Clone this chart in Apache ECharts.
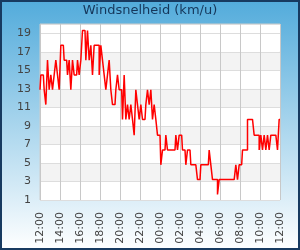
<!DOCTYPE html>
<html><head><meta charset="utf-8">
<script src="https://cdn.jsdelivr.net/npm/echarts@6/dist/echarts.min.js"></script>
<style>html,body{margin:0;padding:0;background:#fff}#c{width:300px;height:250px}</style>
</head><body><div id="c"></div>
<script>
const titleText = 'Windsnelheid (km/u)';
const startHour = 12;
const stepMinutes = 10;
const labelEvery = 12; // one label per 2 hours
const windSpeed = [
  12.9,14.5,14.5,12.9,11.3,16.1,12.9,14.5,12.9,14.5,
  16.1,14.5,12.9,17.7,17.7,16.1,16.1,14.5,16.1,12.9,
  16.1,14.5,14.5,16.1,14.5,16.1,19.3,19.3,16.1,19.3,
  16.1,17.7,14.5,17.7,17.7,17.7,14.5,17.7,16.1,14.5,
  12.9,14.5,16.1,12.9,11.3,11.3,12.9,14.5,12.9,12.9,
  9.7,14.5,9.7,11.3,9.7,11.3,9.7,8.0,12.9,11.3,
  9.7,11.3,9.7,9.7,11.3,12.9,11.3,12.9,9.7,11.3,
  9.7,8.0,8.0,4.8,6.4,6.4,8.0,6.4,6.4,6.4,
  6.4,6.4,8.0,6.4,8.0,8.0,6.4,6.4,4.8,6.4,
  6.4,4.8,4.8,4.8,4.8,3.2,3.2,4.8,4.8,4.8,
  4.8,4.8,6.4,4.8,3.2,3.2,3.2,1.6,3.2,3.2,
  3.2,3.2,3.2,3.2,3.2,3.2,3.2,3.2,4.8,3.2,
  4.8,4.8,6.4,6.4,6.4,9.7,9.7,9.7,9.7,8.0,
  8.0,8.0,6.4,8.0,6.4,8.0,6.4,8.0,6.4,8.0,
  8.0,8.0,8.0,6.4,9.7
];
const yMin = 1, yMax = 20, yInterval = 2;

const times = windSpeed.map((_, i) => {
  const m = startHour * 60 + i * stepMinutes;
  const h = Math.floor(m / 60) % 24, mm = m % 60;
  return String(h).padStart(2, '0') + ':' + String(mm).padStart(2, '0');
});

const chart = echarts.init(document.getElementById('c'), null, {renderer: 'canvas'});
const font = 'DejaVu Sans';
chart.setOption({
  animation: false,
  backgroundColor: new echarts.graphic.LinearGradient(0, 0, 0, 1, [
    {offset: 0, color: '#52abdb'}, {offset: 1, color: '#ffffff'}
  ]),
  title: {
    text: titleText, left: 'center', top: 4, padding: 0,
    textStyle: {fontFamily: font, fontSize: 13, fontWeight: 'normal', color: '#15365a'}
  },
  graphic: [{
    type: 'rect', shape: {x: 1, y: 1, width: 298, height: 248},
    style: {fill: 'none', stroke: '#173a60', lineWidth: 2}, z: 100
  }],
  grid: {left: 40, right: 20, top: 24, bottom: 50, show: true,
    backgroundColor: '#ffffff', borderColor: '#cccccc', borderWidth: 1},
  xAxis: {
    type: 'category', data: times, boundaryGap: false,
    axisLine: {show: false}, axisTick: {show: false},
    axisLabel: {
      interval: (i) => i % labelEvery === 0, rotate: 90, margin: 12,
      fontFamily: font, fontSize: 11, color: '#444'
    },
    splitLine: {show: true, interval: (i) => i % labelEvery === 0,
      lineStyle: {color: '#c8c8c8', width: 1}}
  },
  yAxis: {
    type: 'value', min: yMin, max: yMax, interval: yInterval,
    axisLine: {show: false}, axisTick: {show: false},
    axisLabel: {margin: 9, fontFamily: font, fontSize: 11, color: '#444',
      formatter: (v) => v === yMax ? '' : String(v)},
    splitLine: {lineStyle: {color: '#dddddd', width: 1}},
    splitArea: {show: true, areaStyle: {color: [
      '#ffffff','#f3f3f3','#ffffff','#f3f3f3','#ffffff','#f3f3f3','#ffffff','#f3f3f3','#ffffff','#ffffff'
    ]}}
  },
  series: [{
    type: 'line', data: windSpeed, showSymbol: false, symbol: 'none', step: 'middle',
    lineStyle: {color: '#ff0000', width: 1.5}, silent: true
  }]
});
</script></body></html>
